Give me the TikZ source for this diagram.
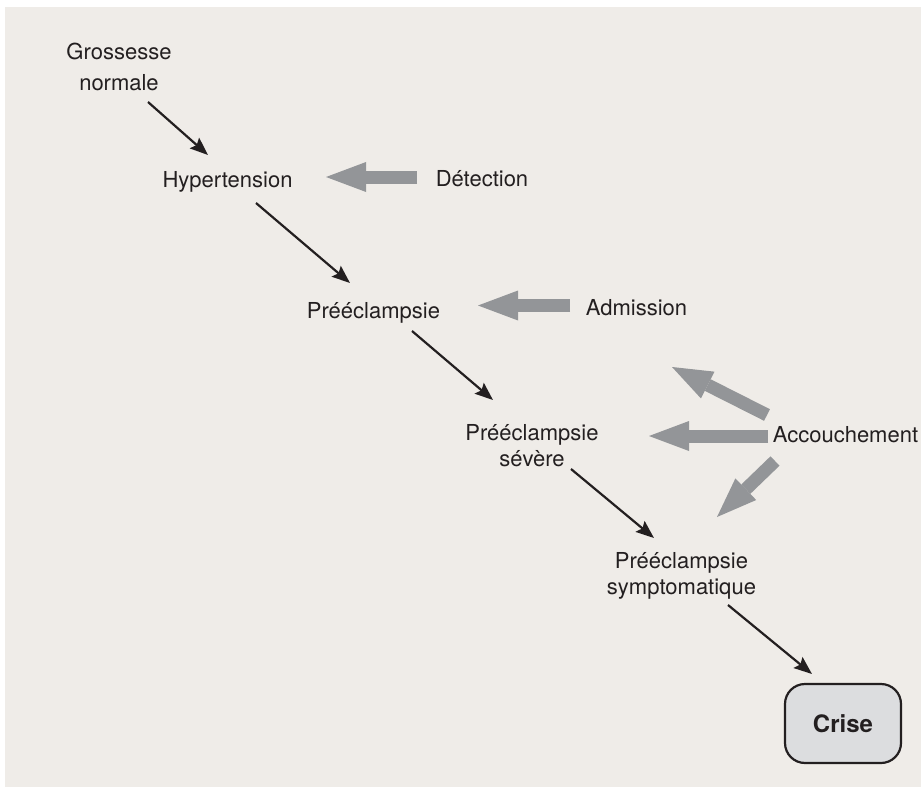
\documentclass[tikz,border=0pt]{standalone}
\usepackage{fontspec}
\setmainfont{TeX Gyre Heros}
\usetikzlibrary{arrows.meta}
\definecolor{bg}{HTML}{EFECE8}
\definecolor{garrow}{HTML}{939598}
\definecolor{ink}{HTML}{231F20}
\definecolor{boxfill}{HTML}{DCDDDF}
\begin{document}
\begin{tikzpicture}[x=1pt,y=-1pt,
  lbl/.style={anchor=base, inner sep=0pt, text=ink, font=\fontsize{22}{26}\selectfont},
  blk/.style={draw=ink, line width=2.2pt, -{Stealth[length=18pt,width=14pt,inset=3pt]}},
  gry/.style={draw=garrow, line width=13pt, -{Triangle[length=40pt,width=30pt,line width=0pt]}},
  crisebox/.style={draw=ink, line width=2.2pt, fill=boxfill, rounded corners=20pt,
    minimum width=116pt, minimum height=79pt, inner sep=0pt, text=ink,
    font=\bfseries\fontsize{24}{28}\selectfont}]
\fill[white] (0,0) rectangle (921,789);
\fill[bg] (5,7) rectangle (921,787);
\useasboundingbox (0,0) rectangle (921,789);

% nodes (anchored at the baseline of their first line)
\node[lbl] (gross) at (119,60) {\begin{tabular}[t]{@{}c@{}}Grossesse\\[5pt]normale\end{tabular}};
\node[lbl] (hyp) at (227.5,187) {Hypertension};
\node[lbl] (det) at (482,186) {Détection};
\node[lbl] (pre1) at (373.5,318) {Prééclampsie};
\node[lbl] (adm) at (636.5,315) {Admission};
\node[lbl] (pre2) at (532,440) {\begin{tabular}[t]{@{}c@{}}Prééclampsie\\sévère\end{tabular}};
\node[lbl] (acc) at (845.5,442) {Accouchement};
\node[lbl] (pre3) at (681.5,568) {\begin{tabular}[t]{@{}c@{}}Prééclampsie\\symptomatique\end{tabular}};
\node[crisebox] (crise) at (843,723.5) {Crise};
\coordinate (up) at (672,367);

% black progression arrows
\draw[blk] ([shift={(29,42)}]gross.base) -- ([shift={(-19.5,-32)}]hyp.base);
\draw[blk] ([shift={(28.5,16)}]hyp.base) -- ([shift={(-23.5,-35)}]pre1.base);
\draw[blk] ([shift={(38.5,13)}]pre1.base) -- ([shift={(-39,-40)}]pre2.base);
\draw[blk] ([shift={(39,29)}]pre2.base) -- ([shift={(-27.5,-30)}]pre3.base);
\draw[blk] ([shift={(46.5,37)}]pre3.base) -- ([shift={(-31,-49.5)}]crise.center);

% grey intervention arrows
\draw[gry] ([shift={(-65,-9)}]det.base) -- ([shift={(98.5,-10)}]hyp.base);
\draw[gry] ([shift={(-66.5,-9.5)}]adm.base) -- ([shift={(104.5,-12.5)}]pre1.base);
\draw[gry] ([shift={(-78.5,-27)}]acc.base) -- (up);
\draw[gry] ([shift={(-77.5,-6)}]acc.base) -- ([shift={(117,-4)}]pre2.base);
\draw[gry] ([shift={(-70.5,19)}]acc.base) -- ([shift={(35.5,-51)}]pre3.base);
\end{tikzpicture}
\end{document}
